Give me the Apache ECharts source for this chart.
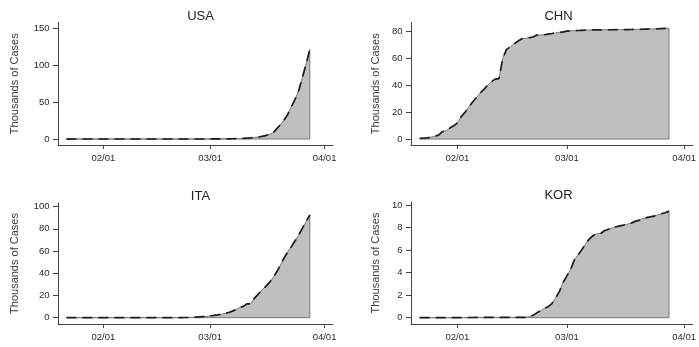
<!DOCTYPE html>
<html>
<head>
<meta charset="utf-8">
<script src="https://cdn.jsdelivr.net/npm/echarts@6/dist/echarts.min.js"></script>
<style>
  html, body { margin: 0; padding: 0; background: #fff; }
  #main { width: 699px; height: 347px; }
</style>
</head>
<body>
<div id="main"></div>
<script>
// daily cumulative confirmed cases, thousands, 2020-01-22 .. 2020-03-28
var firstDay = [2020, 0, 22];
var dayCount = 67;

var usa = [
  0.001,0.001,0.002,0.002,0.005,0.005,0.005,0.005,0.005,0.007,
  0.008,0.008,0.011,0.011,0.011,0.011,0.011,0.011,0.011,0.011,0.012,0.012,0.013,0.013,0.013,0.013,0.013,0.013,0.013,0.013,
  0.015,0.015,0.035,0.035,0.035,0.053,0.057,0.060,0.068,
  0.074,0.098,0.118,0.149,0.217,0.262,0.402,0.518,0.583,0.959,1.281,1.663,2.179,2.727,3.499,4.632,6.421,7.783,13.747,19.273,
  25.600,33.276,43.847,53.740,65.778,83.836,101.657,121.478
];
var chn = [
  0.548,0.643,0.920,1.406,2.075,2.877,5.509,6.087,8.141,9.802,
  11.891,16.630,19.716,23.707,27.440,30.587,34.110,36.814,39.829,42.354,44.386,44.759,59.895,66.358,68.413,70.513,72.434,74.211,74.619,75.077,
  75.550,77.001,77.022,77.241,77.754,78.166,78.600,78.928,79.356,
  79.932,80.136,80.261,80.386,80.537,80.690,80.770,80.823,80.860,80.887,80.921,80.932,80.945,80.977,81.003,81.033,81.058,81.102,81.156,81.250,
  81.305,81.435,81.498,81.591,81.661,81.782,81.897,81.999
];
var ita = [
  0,0,0,0,0,0,0,0,0,0.002,
  0.002,0.002,0.002,0.002,0.002,0.002,0.003,0.003,0.003,0.003,0.003,0.003,0.003,0.003,0.003,0.003,0.003,0.003,0.003,0.003,
  0.020,0.062,0.155,0.229,0.322,0.453,0.655,0.888,1.128,
  1.694,2.036,2.502,3.089,3.858,4.636,5.883,7.375,9.172,10.149,12.462,12.462,17.660,21.157,24.747,27.980,31.506,35.713,41.035,47.021,
  53.578,59.138,63.927,69.176,74.386,80.589,86.498,92.472
];
var kor = [
  0.001,0.001,0.002,0.002,0.003,0.004,0.004,0.004,0.004,0.011,
  0.012,0.015,0.015,0.016,0.019,0.023,0.024,0.024,0.025,0.027,0.028,0.028,0.028,0.028,0.028,0.029,0.030,0.031,0.031,0.104,
  0.204,0.433,0.602,0.833,0.977,1.261,1.766,2.337,3.150,
  3.736,4.335,5.186,5.621,6.088,6.593,7.041,7.314,7.478,7.513,7.755,7.869,7.979,8.086,8.162,8.236,8.320,8.413,8.565,8.652,
  8.799,8.897,8.961,9.037,9.137,9.241,9.332,9.478
];

var panelNames = ['USA', 'CHN', 'ITA', 'KOR'];
var panelData = [usa, chn, ita, kor];
var yTicks = [[0, 50, 100, 150], [0, 20, 40, 60, 80], [0, 20, 40, 60, 80, 100], [0, 2, 4, 6, 8, 10]];
var yRange = [[-8.1, 158], [-4.4, 86.3], [-5.7, 103.2], [-0.56, 10.29]];
var xTicks = [new Date(2020, 1, 1).getTime(), new Date(2020, 2, 1).getTime(), new Date(2020, 3, 1).getTime()];
var xMin = new Date(2020, 0, 19, 17).getTime();
var xMax = new Date(2020, 3, 3, 7).getTime();

var grids = [
  { left: 58, top: 22.5, width: 275, height: 122.5 },
  { left: 411, top: 22.5, width: 285, height: 122.5 },
  { left: 58, top: 203, width: 275, height: 121 },
  { left: 411, top: 202, width: 285, height: 122 }
];
var nameGaps = [37.5, 30, 37.5, 30];

var days = [];
for (var i = 0; i < dayCount; i++) {
  days.push(new Date(firstDay[0], firstDay[1], firstDay[2] + i).getTime());
}

function pad(n) { return n < 10 ? '0' + n : '' + n; }

var axisCol = '#444';
var textCol = '#2a2a2a';

var option = {
  animation: false,
  backgroundColor: '#fff',
  title: [],
  grid: [],
  xAxis: [],
  yAxis: [],
  series: []
};

for (var p = 0; p < 4; p++) {
  var g = grids[p];
  var vals = panelData[p];
  var pts = days.map(function (d, k) { return [d, vals[k]]; });
  var last = days.length - 1;

  option.grid.push({ left: g.left, top: g.top, width: g.width, height: g.height });
  option.title.push({
    text: panelNames[p],
    left: g.left + g.width / 2,
    top: g.top - 18,
    textAlign: 'center',
    textStyle: { fontFamily: 'Liberation Sans', fontSize: 13, fontWeight: 'normal', color: '#222' }
  });
  option.xAxis.push({
    type: 'value',
    gridIndex: p,
    min: xMin,
    max: xMax,
    axisLine: { show: true, onZero: false, lineStyle: { color: axisCol, width: 1 } },
    axisTick: { show: true, length: 4, customValues: xTicks, lineStyle: { color: axisCol } },
    axisLabel: {
      customValues: xTicks,
      margin: 8.5,
      fontFamily: 'Liberation Sans',
      fontSize: 9.5,
      color: textCol,
      formatter: function (v) {
        var d = new Date(v);
        return pad(d.getMonth() + 1) + '/' + pad(d.getDate());
      }
    },
    splitLine: { show: false }
  });
  option.yAxis.push({
    type: 'value',
    gridIndex: p,
    min: yRange[p][0],
    max: yRange[p][1],
    name: 'Thousands of Cases',
    nameLocation: 'middle',
    nameGap: nameGaps[p],
    nameTextStyle: { fontFamily: 'Liberation Sans', fontSize: 11, color: '#3a3a3a' },
    axisLine: { show: true, onZero: false, lineStyle: { color: axisCol, width: 1 } },
    axisTick: { show: true, length: 5, customValues: yTicks[p], lineStyle: { color: axisCol } },
    axisLabel: {
      customValues: yTicks[p],
      margin: 8.5,
      fontFamily: 'Liberation Sans',
      fontSize: 9.5,
      color: textCol
    },
    splitLine: { show: false }
  });

  // shaded area with its grey outline
  option.series.push({
    type: 'line',
    xAxisIndex: p,
    yAxisIndex: p,
    data: pts,
    showSymbol: false,
    lineStyle: { color: '#7a7a7a', width: 1 },
    areaStyle: { color: '#bfbfbf', opacity: 1 }
  });
  option.series.push({
    type: 'line',
    xAxisIndex: p,
    yAxisIndex: p,
    data: [[days[last], vals[last]], [days[last], 0], [days[0], 0]],
    showSymbol: false,
    lineStyle: { color: '#7a7a7a', width: 1 }
  });
  // dashed line on top
  option.series.push({
    type: 'line',
    xAxisIndex: p,
    yAxisIndex: p,
    data: pts,
    showSymbol: false,
    lineStyle: { color: '#1e1e1e', width: 1.7, type: [10, 6] }
  });
}

var chart = echarts.init(document.getElementById('main'), null, { renderer: 'canvas' });
chart.setOption(option);
</script>
</body>
</html>
